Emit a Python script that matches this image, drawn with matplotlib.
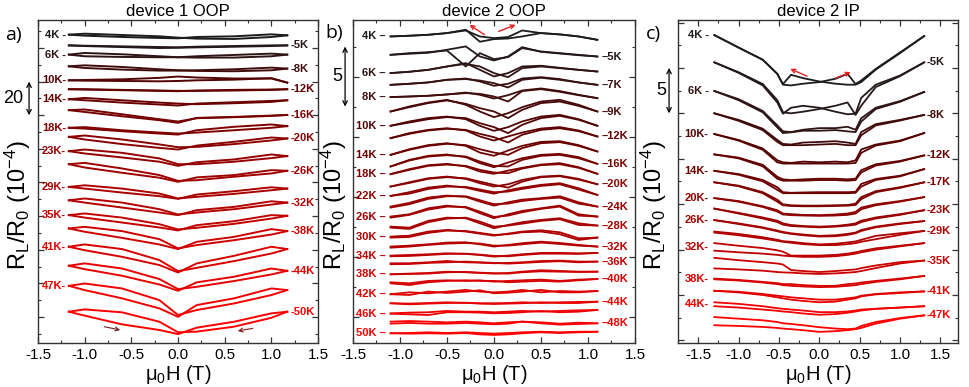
import matplotlib.pyplot as plt
import numpy as np
from matplotlib.colors import LinearSegmentedColormap
from matplotlib.ticker import MultipleLocator, FormatStrFormatter

plt.rcParams['font.family'] = ['Liberation Sans', 'DejaVu Sans']
plt.rcParams['mathtext.fontset'] = 'custom'
plt.rcParams['mathtext.rm'] = 'Liberation Sans'
plt.rcParams['mathtext.it'] = 'Liberation Sans:italic'
plt.rcParams['mathtext.default'] = 'regular'
plt.rcParams['axes.unicode_minus'] = False

# ---------------- panel a : device 1 OOP ----------------
a_field = [-1.17, -1.0, -0.6, -0.2, 0.0, 0.2, 0.6, 1.0, 1.17]
a_temps = [4, 5, 6, 8, 10, 12, 14, 16, 18, 20, 23, 26, 29, 32, 35, 38, 41, 44, 47, 50]
# sweep -H -> +H
a_up = [
    [187.1, 186.5, 185.7, 185.1, 184.9, 185.7, 186.1, 187.3, 186.7],
    [180.6, 180.4, 180.0, 179.6, 179.4, 179.8, 180.2, 180.6, 180.6],
    [175.0, 174.0, 173.6, 173.4, 173.4, 174.0, 174.8, 175.6, 175.0],
    [167.9, 166.9, 165.9, 165.3, 165.3, 165.5, 166.1, 167.1, 166.5],
    [159.4, 159.2, 159.0, 158.8, 159.0, 159.4, 159.8, 160.7, 158.0],
    [154.0, 153.8, 153.4, 153.0, 152.8, 153.2, 153.6, 153.8, 154.0],
    [147.9, 147.3, 145.9, 144.7, 144.1, 145.3, 146.1, 146.9, 147.3],
    [141.3, 140.2, 137.6, 135.2, 133.6, 136.6, 137.2, 138.0, 138.4],
    [130.6, 130.1, 128.5, 127.1, 126.5, 129.1, 131.2, 132.6, 131.6],
    [125.1, 123.5, 120.7, 118.4, 117.4, 119.8, 122.1, 124.7, 124.1],
    [116.4, 115.0, 112.6, 110.0, 107.5, 109.7, 111.4, 114.4, 113.4],
    [108.5, 106.5, 103.3, 100.3, 97.8, 100.5, 101.9, 104.9, 104.5],
    [94.7, 93.7, 91.3, 89.1, 87.5, 90.1, 92.1, 94.5, 93.7],
    [86.6, 85.2, 82.2, 79.2, 77.6, 80.6, 82.6, 86.0, 85.2],
    [77.6, 76.1, 73.1, 70.1, 68.3, 71.5, 73.9, 77.6, 77.2],
    [69.5, 67.5, 63.8, 59.8, 57.0, 61.4, 64.4, 69.1, 67.9],
    [58.4, 56.3, 52.3, 47.3, 42.8, 48.3, 52.9, 58.4, 57.0],
    [46.9, 44.8, 40.8, 35.5, 31.7, 36.8, 40.2, 45.2, 43.8],
    [34.7, 32.1, 27.1, 21.0, 15.9, 23.0, 27.1, 33.1, 32.1],
    [19.0, 16.6, 11.3, 7.9, 5.4, 9.3, 12.9, 18.0, 19.0],
]
# sweep +H -> -H
a_down = [
    [187.1, 187.7, 186.9, 186.1, 185.3, 184.7, 184.5, 185.7, 186.7],
    [180.6, 180.2, 179.6, 179.0, 179.2, 179.4, 179.8, 180.2, 180.6],
    [175.0, 176.0, 175.2, 174.0, 173.4, 173.2, 173.2, 174.0, 175.0],
    [167.9, 168.5, 167.5, 166.1, 165.5, 165.1, 164.9, 165.5, 166.5],
    [159.4, 159.6, 160.0, 160.9, 161.7, 161.1, 160.5, 160.5, 158.0],
    [154.0, 154.0, 153.6, 153.2, 153.0, 153.0, 153.2, 153.6, 154.0],
    [147.9, 148.7, 147.3, 145.9, 145.3, 144.9, 145.5, 146.3, 147.3],
    [141.3, 141.7, 138.8, 135.8, 134.4, 136.4, 137.0, 137.8, 138.4],
    [130.6, 131.0, 129.1, 127.7, 127.1, 127.7, 129.1, 130.6, 131.6],
    [125.1, 125.9, 123.5, 120.5, 118.8, 119.0, 120.7, 122.9, 124.1],
    [116.4, 117.4, 115.4, 112.0, 108.5, 108.5, 110.0, 112.2, 113.4],
    [108.5, 109.3, 105.9, 101.9, 98.4, 98.8, 100.9, 102.9, 104.5],
    [94.7, 95.7, 93.7, 90.7, 87.7, 88.7, 90.5, 92.7, 93.7],
    [86.6, 87.7, 85.2, 81.2, 78.0, 79.2, 81.2, 84.0, 85.2],
    [77.6, 78.6, 76.1, 72.1, 68.9, 69.9, 72.3, 75.5, 77.2],
    [69.5, 70.5, 67.9, 63.0, 57.4, 59.4, 62.4, 65.8, 67.9],
    [58.4, 59.8, 57.0, 50.3, 43.6, 45.6, 49.7, 54.3, 57.0],
    [46.9, 48.3, 45.2, 38.8, 32.7, 34.1, 37.6, 41.6, 43.8],
    [34.7, 36.1, 33.1, 26.0, 17.0, 20.0, 24.0, 29.1, 32.1],
    [19.0, 20.4, 18.6, 12.9, 6.5, 6.9, 9.9, 15.3, 19.0],
]

# ---------------- panel b : device 2 OOP ----------------
b_field = [-1.1, -0.9, -0.7, -0.5, -0.3, -0.15, 0.0, 0.15, 0.3, 0.5, 0.7, 0.9, 1.1]
b_temps = [4, 5, 6, 7, 8, 9, 10, 12, 14, 16, 18, 20, 22, 24, 26, 28, 30, 32, 34, 36, 38, 40, 42, 44, 46, 48, 50]
b_up = [
    [25.53, 25.59, 25.67, 25.81, 26.09, 25.09, 25.31, 25.36, 25.53, 25.81, 25.70, 25.53, 25.25],
    [24.0, 24.14, 24.22, 24.36, 23.03, 24.14, 23.64, 23.81, 24.56, 24.28, 24.14, 24.0, 23.86],
    [22.48, 22.59, 22.75, 23.03, 23.31, 22.75, 22.2, 22.48, 23.03, 23.09, 22.92, 22.75, 22.61],
    [21.5, 21.59, 21.7, 21.92, 22.03, 21.78, 21.42, 21.59, 22.03, 22.14, 21.98, 21.7, 21.5],
    [20.48, 20.53, 20.59, 20.7, 20.86, 20.67, 20.36, 20.64, 21.03, 21.2, 20.98, 20.67, 20.39],
    [19.28, 19.7, 20.03, 20.25, 19.84, 19.28, 18.81, 19.14, 19.64, 20.11, 20.25, 19.84, 19.28],
    [18.09, 18.45, 18.73, 18.86, 18.64, 18.09, 17.67, 17.98, 18.45, 18.86, 19.0, 18.64, 18.09],
    [17.06, 17.48, 17.75, 17.89, 17.7, 17.2, 16.86, 17.2, 17.53, 17.86, 17.98, 17.7, 17.2],
    [15.67, 16.14, 16.48, 16.64, 16.42, 15.86, 15.59, 16.03, 16.42, 16.75, 16.81, 16.48, 15.95],
    [14.7, 15.25, 15.59, 15.7, 15.48, 14.98, 14.64, 15.03, 15.39, 15.67, 15.75, 15.48, 14.92],
    [14.06, 14.48, 14.81, 14.92, 14.7, 14.28, 14.09, 14.36, 14.59, 14.86, 14.98, 14.64, 14.09],
    [13.03, 13.39, 13.72, 13.86, 13.67, 13.31, 13.03, 13.22, 13.58, 13.86, 13.94, 13.67, 13.22],
    [12.25, 12.56, 12.94, 13.11, 12.94, 12.67, 12.44, 12.72, 12.94, 13.17, 13.31, 12.89, 12.33],
    [11.36, 11.67, 12.11, 12.28, 12.17, 11.78, 11.44, 11.72, 11.94, 12.06, 12.22, 11.72, 11.36],
    [10.53, 10.72, 11.22, 11.44, 11.28, 10.81, 10.39, 10.72, 11.0, 11.22, 11.44, 10.72, 10.53],
    [9.69, 9.61, 10.17, 10.44, 10.39, 9.97, 9.56, 9.83, 10.06, 10.25, 10.39, 9.97, 9.78],
    [8.86, 8.94, 9.28, 9.42, 9.28, 9.11, 8.94, 9.11, 9.28, 9.39, 9.22, 8.72, 8.78],
    [8.03, 8.11, 8.22, 8.36, 8.39, 8.22, 8.03, 8.17, 8.31, 8.44, 8.33, 8.17, 8.03],
    [7.28, 7.33, 7.39, 7.47, 7.42, 7.33, 7.19, 7.28, 7.39, 7.5, 7.5, 7.47, 7.5],
    [6.64, 6.64, 6.72, 6.83, 6.72, 6.69, 6.64, 6.67, 6.72, 6.83, 6.86, 6.78, 6.78],
    [5.72, 5.78, 5.83, 5.94, 5.89, 5.83, 5.78, 5.83, 5.94, 6.06, 6.0, 5.94, 5.94],
    [5.06, 4.97, 5.17, 5.22, 5.17, 5.22, 5.11, 5.17, 5.22, 5.28, 5.17, 5.28, 5.33],
    [4.06, 4.22, 4.14, 4.28, 4.42, 4.28, 4.22, 4.28, 4.42, 4.22, 4.33, 4.28, 4.33],
    [3.31, 3.28, 3.33, 3.39, 3.33, 3.31, 3.31, 3.33, 3.39, 3.33, 3.39, 3.42, 3.44],
    [2.47, 2.53, 2.56, 2.67, 2.61, 2.61, 2.56, 2.61, 2.67, 2.61, 2.67, 2.72, 2.75],
    [1.78, 1.83, 1.78, 1.72, 1.78, 1.72, 1.64, 1.72, 1.78, 1.72, 1.61, 1.69, 1.64],
    [0.81, 0.83, 0.89, 0.83, 0.89, 0.83, 0.78, 0.83, 0.89, 0.94, 0.89, 0.94, 0.94],
]
b_down = [
    [25.53, 25.59, 25.67, 25.81, 26.03, 25.53, 25.39, 25.48, 26.03, 25.81, 25.70, 25.53, 25.25],
    [24.0, 24.09, 24.17, 24.42, 24.7, 23.86, 23.53, 23.86, 24.64, 24.25, 24.11, 23.97, 23.86],
    [22.48, 22.59, 22.75, 23.03, 23.25, 23.03, 22.48, 22.14, 22.89, 23.03, 22.89, 22.75, 22.61],
    [21.5, 21.59, 21.7, 21.92, 21.98, 21.86, 21.64, 21.28, 21.92, 22.09, 21.92, 21.7, 21.5],
    [20.48, 20.53, 20.59, 20.7, 20.81, 20.75, 20.53, 20.11, 20.98, 21.14, 20.92, 20.64, 20.39],
    [19.28, 19.64, 19.98, 20.2, 19.92, 19.56, 19.28, 18.73, 19.42, 19.98, 20.11, 19.75, 19.28],
    [18.09, 18.36, 18.64, 18.81, 18.73, 18.31, 17.98, 17.48, 18.17, 18.73, 18.92, 18.59, 18.09],
    [17.06, 17.42, 17.7, 17.84, 17.75, 17.42, 17.14, 16.7, 17.34, 17.75, 17.89, 17.64, 17.2],
    [15.67, 16.09, 16.42, 16.59, 16.48, 16.14, 15.86, 15.67, 16.23, 16.64, 16.73, 16.42, 15.95],
    [14.7, 15.2, 15.53, 15.64, 15.53, 15.11, 14.75, 14.7, 15.25, 15.59, 15.67, 15.39, 14.92],
    [14.06, 14.42, 14.75, 14.86, 14.75, 14.42, 14.2, 14.14, 14.53, 14.81, 14.89, 14.59, 14.09],
    [13.03, 13.33, 13.67, 13.81, 13.72, 13.44, 13.17, 12.94, 13.44, 13.81, 13.89, 13.61, 13.22],
    [12.25, 12.44, 12.83, 13.03, 13.0, 12.78, 12.56, 12.61, 12.83, 13.08, 13.22, 12.78, 12.33],
    [11.28, 11.56, 12.0, 12.22, 12.22, 11.89, 11.56, 11.61, 11.83, 12.0, 12.11, 11.61, 11.36],
    [10.44, 10.67, 11.11, 11.36, 11.33, 10.94, 10.5, 10.61, 10.89, 11.17, 11.36, 10.61, 10.53],
    [9.61, 9.5, 10.06, 10.36, 10.44, 10.11, 9.69, 9.78, 9.94, 10.17, 10.31, 9.83, 9.78],
    [8.78, 8.83, 9.17, 9.36, 9.33, 9.17, 9.0, 9.06, 9.22, 9.28, 9.06, 8.58, 8.78],
    [7.94, 8.03, 8.17, 8.28, 8.33, 8.28, 8.11, 8.11, 8.22, 8.36, 8.25, 8.11, 8.03],
    [7.22, 7.25, 7.33, 7.42, 7.44, 7.36, 7.25, 7.22, 7.33, 7.44, 7.44, 7.42, 7.5],
    [6.56, 6.58, 6.67, 6.72, 6.78, 6.72, 6.67, 6.61, 6.67, 6.75, 6.81, 6.72, 6.78],
    [5.72, 5.75, 5.78, 5.89, 5.92, 5.86, 5.81, 5.78, 5.89, 5.97, 5.94, 5.92, 5.94],
    [4.97, 4.83, 5.06, 5.17, 5.22, 5.17, 5.17, 5.06, 5.11, 5.17, 5.11, 5.22, 5.33],
    [4.06, 4.0, 4.28, 4.17, 4.28, 4.39, 4.14, 4.19, 4.28, 4.42, 4.22, 4.22, 4.33],
    [3.31, 3.22, 3.28, 3.33, 3.36, 3.28, 3.25, 3.28, 3.31, 3.39, 3.33, 3.33, 3.44],
    [2.44, 2.39, 2.33, 2.56, 2.56, 2.53, 2.47, 2.5, 2.56, 2.67, 2.56, 2.61, 2.75],
    [1.61, 1.67, 1.61, 1.61, 1.67, 1.61, 1.56, 1.61, 1.78, 1.64, 1.53, 1.58, 1.64],
    [0.81, 0.78, 0.81, 0.78, 0.83, 0.72, 0.67, 0.72, 0.81, 0.89, 0.83, 0.89, 0.94],
]

# ---------------- panel c : device 2 IP ----------------
c_field = [-1.3, -1.0, -0.7, -0.52, -0.45, -0.35, -0.2, 0.0, 0.2, 0.35, 0.45, 0.52, 0.7, 1.0, 1.3]
c_temps = [4, 5, 6, 8, 10, 12, 14, 17, 20, 23, 26, 29, 32, 35, 38, 41, 44, 47]
c_up = [
    [34.32, 32.93, 31.57, 30.0, 28.79, 28.71, 28.9, 29.08, 29.45, 30.0, 28.86, 29.26, 30.55, 32.38, 34.21],
    [31.28, 30.18, 28.86, 27.07, 25.71, 25.6, 25.78, 26.08, 26.44, 26.81, 25.42, 26.44, 28.53, 29.74, 31.28],
    [28.09, 27.18, 25.86, 24.25, 23.59, 23.51, 23.77, 23.95, 23.95, 24.1, 23.77, 25.05, 26.22, 26.96, 27.98],
    [25.6, 24.87, 23.88, 22.63, 22.19, 22.12, 22.34, 22.41, 22.49, 22.34, 22.19, 23.51, 24.39, 24.87, 25.42],
    [23.29, 22.63, 21.68, 20.36, 20.14, 20.07, 20.22, 20.14, 20.22, 20.14, 20.36, 21.57, 22.12, 22.56, 23.4],
    [21.02, 20.66, 19.85, 18.53, 18.24, 18.16, 18.24, 18.31, 18.31, 18.24, 18.31, 19.26, 19.92, 20.29, 20.91],
    [19.19, 18.83, 18.17, 17.36, 16.81, 16.74, 16.78, 16.81, 16.81, 16.81, 16.85, 17.73, 18.28, 18.64, 19.38],
    [17.91, 17.54, 16.81, 15.97, 15.46, 15.35, 15.31, 15.31, 15.35, 15.38, 15.53, 16.26, 16.92, 17.36, 17.91],
    [16.15, 15.82, 15.24, 14.8, 14.43, 14.36, 14.28, 14.25, 14.32, 14.43, 14.61, 15.09, 15.46, 15.82, 16.26],
    [14.98, 14.5, 13.99, 13.63, 13.33, 13.15, 13.04, 12.97, 13.04, 13.19, 13.33, 13.63, 13.99, 14.36, 14.8],
    [13.7, 13.33, 12.89, 12.53, 12.38, 12.23, 12.09, 11.94, 12.01, 12.16, 12.31, 12.6, 12.97, 13.33, 13.59],
    [12.42, 12.16, 11.79, 11.5, 11.35, 11.28, 11.13, 10.99, 11.06, 11.21, 11.32, 11.5, 11.94, 12.23, 12.49],
    [11.13, 10.84, 10.58, 10.33, 10.18, 9.74, 9.74, 9.74, 9.82, 9.96, 10.11, 10.25, 10.55, 10.84, 11.13],
    [9.49, 9.23, 9.01, 8.86, 8.75, 8.13, 8.02, 7.91, 8.02, 8.13, 8.2, 8.35, 8.64, 9.01, 9.19],
    [7.18, 7.03, 6.81, 6.67, 6.56, 6.56, 6.45, 6.37, 6.37, 6.56, 6.63, 6.74, 6.92, 7.18, 7.47],
    [5.82, 5.71, 5.46, 5.27, 5.2, 5.09, 4.98, 4.83, 4.83, 4.98, 5.09, 5.27, 5.46, 5.64, 5.75],
    [4.54, 4.36, 4.1, 3.88, 3.81, 3.73, 3.62, 3.44, 3.44, 3.51, 3.62, 3.73, 3.81, 3.95, 4.1],
    [2.89, 2.71, 2.53, 2.34, 2.2, 2.12, 1.98, 1.76, 1.61, 1.54, 1.61, 1.9, 2.34, 2.78, 3.08],
]
c_down = [
    [34.32, 32.93, 31.57, 30.0, 28.86, 29.89, 29.52, 29.15, 28.9, 28.79, 28.79, 29.08, 30.47, 32.3, 34.21],
    [31.28, 30.11, 28.71, 26.81, 25.56, 26.22, 26.44, 26.22, 25.78, 25.49, 25.56, 27.32, 28.79, 29.81, 31.28],
    [28.09, 27.07, 25.71, 24.03, 23.4, 23.48, 23.66, 23.66, 23.73, 23.59, 23.51, 24.68, 26.08, 26.88, 27.98],
    [25.6, 24.76, 23.73, 22.41, 22.05, 22.05, 22.05, 22.12, 22.19, 22.05, 22.05, 23.15, 24.25, 24.79, 25.42],
    [23.29, 22.56, 21.53, 20.14, 20.0, 20.0, 20.0, 20.0, 20.0, 20.0, 20.07, 21.2, 22.01, 22.49, 23.4],
    [21.02, 20.58, 19.7, 18.31, 18.09, 18.09, 18.09, 18.16, 18.16, 18.09, 18.16, 19.01, 19.78, 20.22, 20.91],
    [19.19, 18.75, 18.02, 17.07, 16.7, 16.7, 16.7, 16.7, 16.7, 16.7, 16.74, 17.43, 18.17, 18.57, 19.38],
    [17.91, 17.47, 16.7, 15.75, 15.35, 15.27, 15.24, 15.24, 15.27, 15.31, 15.38, 16.04, 16.81, 17.29, 17.91],
    [16.15, 15.75, 15.16, 14.65, 14.32, 14.25, 14.21, 14.17, 14.21, 14.28, 14.43, 14.91, 15.35, 15.75, 16.26],
    [14.98, 14.43, 13.88, 13.48, 13.19, 13.04, 12.97, 12.89, 12.97, 13.08, 13.19, 13.48, 13.88, 14.28, 14.8],
    [13.7, 13.26, 12.82, 12.45, 12.31, 12.16, 12.01, 11.87, 11.9, 12.05, 12.23, 12.49, 12.89, 13.26, 13.59],
    [12.31, 12.01, 11.65, 11.39, 11.28, 11.17, 11.02, 10.91, 10.91, 11.02, 11.13, 11.28, 11.57, 12.05, 12.49],
    [10.29, 10.11, 9.96, 9.82, 9.74, 9.67, 9.6, 9.6, 9.67, 9.82, 9.96, 10.11, 10.4, 10.77, 11.13],
    [8.31, 8.2, 8.06, 7.91, 7.87, 7.84, 7.76, 7.69, 7.76, 7.84, 7.91, 8.02, 8.35, 8.86, 9.19],
    [7.1, 6.96, 6.74, 6.56, 6.45, 6.37, 6.3, 6.23, 6.26, 6.37, 6.45, 6.56, 6.81, 7.1, 7.47],
    [5.82, 5.64, 5.35, 5.09, 4.98, 4.83, 4.69, 4.54, 4.61, 4.83, 4.98, 5.2, 5.42, 5.57, 5.75],
    [4.1, 3.95, 3.73, 3.59, 3.51, 3.44, 3.29, 3.15, 3.22, 3.37, 3.51, 3.62, 3.81, 3.95, 4.1],
    [1.98, 1.9, 1.79, 1.68, 1.61, 1.54, 1.43, 1.24, 1.32, 1.43, 1.54, 1.68, 2.16, 2.71, 3.08],
]

temp_cmap = LinearSegmentedColormap.from_list(
    'temps', [(0.0, '#1c1c1c'), (0.15, '#5c0000'), (0.35, '#8b0000'), (0.6, '#b40000'), (1.0, '#ff0000')])


def style_axes(ax, xlim, ylim, major_y, minor_y):
    ax.set_xlim(*xlim)
    ax.set_ylim(*ylim)
    ax.xaxis.set_major_locator(MultipleLocator(0.5))
    ax.xaxis.set_minor_locator(MultipleLocator(0.25))
    ax.xaxis.set_major_formatter(FormatStrFormatter('%.1f'))
    ax.set_yticks(major_y)
    ax.set_yticks(minor_y, minor=True)
    ax.set_yticklabels([])
    ax.tick_params(which='both', direction='in', top=True, right=True, labelsize=11, color='#333333')
    ax.tick_params(which='major', length=4.5, width=0.9)
    ax.tick_params(which='minor', length=2.5, width=0.8)
    for sp in ax.spines.values():
        sp.set_color('#333333')
        sp.set_linewidth(1.0)
    ax.set_xlabel('\u03bc$_0$H (T)', fontsize=14.5, labelpad=1)


def draw_curves(ax, field, temps, up, down, lw, x_left, x_right, dash):
    t0, t1 = temps[0], temps[-1]
    for i, t in enumerate(temps):
        color = temp_cmap((t - t0) / (t1 - t0))
        ax.plot(field, up[i], color=color, lw=lw, solid_joinstyle='round')
        ax.plot(field, down[i], color=color, lw=lw, solid_joinstyle='round')
        # labels alternate between the left and right end of the curves
        if i % 2 == 0:
            if dash == '-':
                txt = '{}K -'.format(t) if t < 10 else '{}K-'.format(t)
            else:
                txt = '{}K {}'.format(t, dash)
            ax.text(x_left, (up[i][0] + down[i][0]) / 2, txt, ha='right', va='center',
                    color=color, fontsize=8, fontweight='bold')
        else:
            ax.text(x_right, (up[i][-1] + down[i][-1]) / 2, '{}{}K'.format(dash, t), ha='left',
                    va='center', color=color, fontsize=8, fontweight='bold')


def scale_bar(ax, x_arrow, x_text, y0, y1, label, size):
    tr = ax.get_yaxis_transform()
    ax.annotate('', xy=(x_arrow, y1), xytext=(x_arrow, y0), xycoords=tr, textcoords=tr,
                arrowprops=dict(arrowstyle='<->', color='black', lw=0.9, shrinkA=0, shrinkB=0,
                                mutation_scale=8),
                annotation_clip=False)
    ax.text(x_text, (y0 + y1) / 2, label, transform=tr, ha='center', va='center', fontsize=size)


def sweep_arrow(ax, tail, head, color, lw):
    ax.annotate('', xy=head, xytext=tail,
                arrowprops=dict(arrowstyle='->', color=color, lw=lw, shrinkA=0, shrinkB=0,
                                mutation_scale=7))


fig = plt.figure(figsize=(9.7, 3.87), dpi=100)
ax_a = fig.add_axes([0.0392, 0.1137, 0.2887, 0.8346])
ax_b = fig.add_axes([0.3639, 0.1137, 0.2907, 0.8346])
ax_c = fig.add_axes([0.6990, 0.1137, 0.2887, 0.8346])

# panel a
style_axes(ax_a, (-1.5, 1.5), (0, 196), np.arange(15.8, 190, 20.4), np.arange(5.6, 196, 20.4))
draw_curves(ax_a, a_field, a_temps, a_up, a_down, 1.4, -1.2, 1.21, '-')
scale_bar(ax_a, -0.032, -0.09, 138.2, 158.6, '20', 13)
sweep_arrow(ax_a, (-0.79, 9.9), (-0.62, 7.9), '#6a1a1a', 0.8)
sweep_arrow(ax_a, (0.80, 8.9), (0.64, 7.3), '#8a1a1a', 0.8)
ax_a.set_title('device 1 OOP', fontsize=12, pad=3)

# panel b
style_axes(ax_b, (-1.5, 1.5), (0, 26.9), np.arange(2.19, 26, 5), np.arange(4.69, 26.9, 5))
draw_curves(ax_b, b_field, b_temps, b_up, b_down, 1.3, -1.15, 1.15, '\u2013')
scale_bar(ax_b, -0.028, -0.057, 19.69, 24.69, '5', 13)
sweep_arrow(ax_b, (-0.10, 25.67), (-0.26, 26.5), '#e02020', 1.0)
sweep_arrow(ax_b, (0.05, 25.95), (0.23, 26.5), '#e02020', 1.0)
ax_b.set_title('device 2 OOP', fontsize=12, pad=3)

# panel c
style_axes(ax_c, (-1.75, 1.72), (0, 36.0), np.arange(0.3, 36, 5.06), np.arange(2.83, 36, 5.06))
draw_curves(ax_c, c_field, c_temps, c_up, c_down, 1.3, -1.37, 1.33, '-')
scale_bar(ax_c, -0.032, -0.061, 25.6, 30.66, '5', 13)
sweep_arrow(ax_c, (-0.15, 29.74), (-0.36, 30.55), '#e02020', 1.0)
sweep_arrow(ax_c, (0.20, 29.52), (0.39, 30.18), '#e02020', 1.0)
ax_c.set_title('device 2 IP', fontsize=12, pad=3)

fig.text(0.005, 0.91, 'a)', fontsize=14, family=['Open Sans', 'DejaVu Sans'], va='center')
fig.text(0.335, 0.915, 'b)', fontsize=14, family=['Open Sans', 'DejaVu Sans'], va='center')
fig.text(0.666, 0.913, 'c)', fontsize=14, family=['Open Sans', 'DejaVu Sans'], va='center')

for x in [0.018, 0.344, 0.674]:
    fig.text(x, 0.47, 'R$_L$/R$_0$ (10$^{-4}$)', rotation=90, fontsize=17, ha='center', va='center')

fig.savefig('out.png', dpi=100)
